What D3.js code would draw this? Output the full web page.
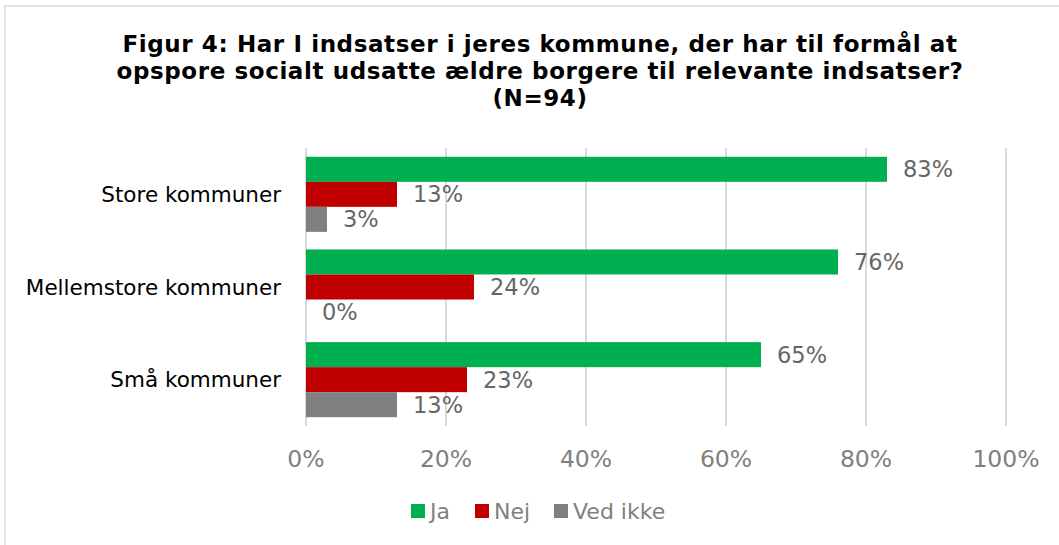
<!DOCTYPE html>
<meta charset="utf-8">
<style>
    body { margin: 0; background: #fff; }
    text { font-family: "DejaVu Sans", Verdana, sans-serif; }
    .grid line { stroke: #d9d9d9; stroke-width: 2; }
</style>
<svg width="1059" height="545"></svg>
<script src="https://cdn.jsdelivr.net/npm/d3@7"></script>
<script>
    var categories = ["Store kommuner", "Mellemstore kommuner", "Små kommuner"];
    var seriesNames = ["Ja", "Nej", "Ved ikke"];
    var ja = [83, 76, 65];
    var nej = [13, 24, 23];
    var vedIkke = [3, 0, 13];
    var ticks = [0, 20, 40, 60, 80, 100];
    var colors = ["#00b050", "#c00000", "#808080"];

    var svg = d3.select("svg");

    // chart frame
    svg.append("rect")
        .attr("x", 5).attr("y", 6)
        .attr("width", 1060).attr("height", 545)
        .attr("fill", "none")
        .attr("stroke", "#d9d9d9")
        .attr("stroke-width", 1.5);

    var title = ["Figur 4: Har I indsatser i jeres kommune, der har til formål at",
        "opspore socialt udsatte ældre borgere til relevante indsatser?",
        "(N=94)"];
    svg.selectAll(".title")
        .data(title)
        .enter().append("text")
        .attr("class", "title")
        .attr("x", 540)
        .attr("y", function (d, i) { return 52 + i * 27; })
        .attr("text-anchor", "middle")
        .attr("font-weight", "bold")
        .attr("font-size", "23px")
        .attr("letter-spacing", "0.6px")
        .attr("fill", "#000")
        .text(function (d) { return d; });

    var plotLeft = 306, plotRight = 1006, plotTop = 148, plotBottom = 426;

    var x = d3.scaleLinear().domain([0, 100]).range([plotLeft, plotRight]);
    var y = d3.scaleBand().domain(categories).range([plotTop, plotBottom])
        .paddingInner(0.19).paddingOuter(0.095);
    var ySub = d3.scaleBand().domain(seriesNames).range([0, y.bandwidth()]);

    var grid = svg.append("g").attr("class", "grid");
    grid.selectAll("line")
        .data(ticks)
        .enter().append("line")
        .attr("x1", function (d) { return x(d); })
        .attr("x2", function (d) { return x(d); })
        .attr("y1", plotTop)
        .attr("y2", plotBottom);

    var rows = [];
    categories.forEach(function (c, i) {
        [ja, nej, vedIkke].forEach(function (s, j) {
            rows.push({ cat: c, series: seriesNames[j], value: s[i], color: colors[j] });
        });
    });

    svg.selectAll(".bar")
        .data(rows)
        .enter().append("rect")
        .attr("class", "bar")
        .attr("x", x(0))
        .attr("y", function (d) { return y(d.cat) + ySub(d.series); })
        .attr("width", function (d) { return x(d.value) - x(0); })
        .attr("height", ySub.bandwidth())
        .attr("fill", function (d) { return d.color; });

    svg.selectAll(".label")
        .data(rows)
        .enter().append("text")
        .attr("class", "label")
        .attr("x", function (d) { return x(d.value) + 16; })
        .attr("y", function (d) { return y(d.cat) + ySub(d.series) + ySub.bandwidth() / 2; })
        .attr("dy", "0.36em")
        .attr("font-size", "22.5px")
        .attr("fill", "#666666")
        .text(function (d) { return d.value + "%"; });

    svg.selectAll(".cat")
        .data(categories)
        .enter().append("text")
        .attr("class", "cat")
        .attr("x", 281)
        .attr("y", function (d) { return y(d) + y.bandwidth() / 2; })
        .attr("dy", "0.36em")
        .attr("text-anchor", "end")
        .attr("font-size", "21.5px")
        .attr("fill", "#000")
        .text(function (d) { return d; });

    svg.selectAll(".tick")
        .data(ticks)
        .enter().append("text")
        .attr("class", "tick")
        .attr("x", function (d) { return x(d); })
        .attr("y", 467)
        .attr("text-anchor", "middle")
        .attr("font-size", "23.5px")
        .attr("fill", "#808080")
        .text(function (d) { return d + "%"; });

    // legend
    var legendX = [411, 475, 554];
    var legend = svg.selectAll(".legend")
        .data(seriesNames)
        .enter().append("g")
        .attr("class", "legend")
        .attr("transform", function (d, i) { return "translate(" + legendX[i] + ",504)"; });
    legend.append("rect")
        .attr("width", 14).attr("height", 14)
        .attr("fill", function (d, i) { return colors[i]; });
    legend.append("text")
        .attr("x", 19)
        .attr("y", 15)
        .attr("font-size", "22px")
        .attr("fill", "#808080")
        .text(function (d) { return d; });
</script>
